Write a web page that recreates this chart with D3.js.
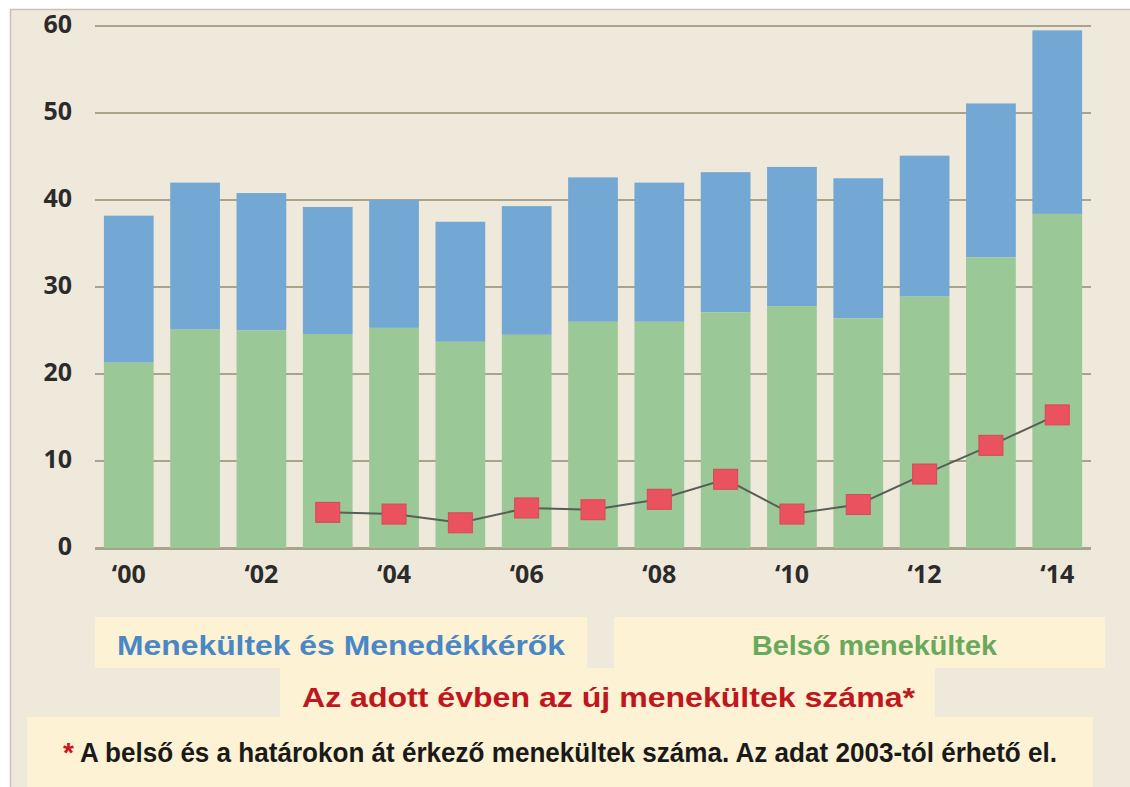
<!DOCTYPE html>
<html>
<head>
<meta charset="utf-8">
<script src="https://cdn.jsdelivr.net/npm/d3@7"></script>
<style>
  body { margin: 0; background: #fff; }
  svg { display: block; }
</style>
</head>
<body>
<div id="chart"></div>
<script>
// data (millions)
const years   = d3.range(2000, 2015);
const refugees = [38.2, 42.0, 40.8, 39.2, 40.0, 37.5, 39.3, 42.6, 42.0, 43.2, 43.8, 42.5, 45.1, 51.1, 59.5]; // totals
const internal = [21.3, 25.1, 25.0, 24.6, 25.3, 23.7, 24.5, 26.0, 26.0, 27.1, 27.8, 26.4, 28.9, 33.4, 38.4];
const newYears = d3.range(2003, 2015);
const newRef   = [4.1, 3.9, 2.9, 4.6, 4.4, 5.6, 7.9, 3.9, 5.0, 8.5, 11.8, 15.3];
const yTicks   = [0, 10, 20, 30, 40, 50, 60];
const xLabels  = [2000, 2002, 2004, 2006, 2008, 2010, 2012, 2014];

const width = 1130, height = 787;
const svg = d3.select("#chart").append("svg")
  .attr("width", width).attr("height", height);

// page background with border
svg.append("rect").attr("x", 10.5).attr("y", 9.5)
   .attr("width", width).attr("height", height)
   .attr("fill", "#efe9db").attr("stroke", "#c9c2b3").attr("stroke-width", 1.5);

const x = d3.scaleBand().domain(years).range([95.6, 1090.4])
  .paddingInner(0.25).paddingOuter(0.125);
const y = d3.scaleLinear().domain([0, 60]).range([548, 26]);

// grid
svg.append("g").selectAll("line").data(yTicks).join("line")
  .attr("x1", 95).attr("x2", 1091)
  .attr("y1", d => y(d)).attr("y2", d => y(d))
  .attr("stroke", "#a8a48b").attr("stroke-width", 2);

// y labels
svg.append("g").selectAll("text").data(yTicks).join("text")
  .attr("x", 72).attr("y", d => y(d) - 2)
  .attr("dy", "0.35em").attr("text-anchor", "end")
  .attr("font-family", "Open Sans, sans-serif").attr("font-weight", 700)
  .attr("font-size", 25).attr("fill", "#2b2b2b")
  .text(d => d);

// stacked bars
const bars = svg.append("g");
bars.selectAll("rect.tot").data(years).join("rect")
  .attr("class", "tot")
  .attr("x", d => x(d)).attr("width", x.bandwidth())
  .attr("y", (d, i) => y(refugees[i]))
  .attr("height", (d, i) => y(internal[i]) - y(refugees[i]))
  .attr("fill", "#74a8d4");
bars.selectAll("rect.int").data(years).join("rect")
  .attr("class", "int")
  .attr("x", d => x(d)).attr("width", x.bandwidth())
  .attr("y", (d, i) => y(internal[i]))
  .attr("height", (d, i) => y(0) - y(internal[i]))
  .attr("fill", "#9ac897");

// baseline over bars
svg.append("line").attr("x1", 95).attr("x2", 1091)
  .attr("y1", y(0) + 1).attr("y2", y(0) + 1)
  .attr("stroke", "#a8a48b").attr("stroke-width", 2);

// x labels
svg.append("g").selectAll("text").data(xLabels).join("text")
  .attr("x", d => x(d) + x.bandwidth() / 2).attr("y", 574)
  .attr("dy", "0.35em").attr("text-anchor", "middle")
  .attr("font-family", "Open Sans, sans-serif").attr("font-weight", 700)
  .attr("font-size", 25).attr("fill", "#2b2b2b")
  .text(d => "\u2018" + String(d).slice(2));

// new refugees line
const line = d3.line()
  .x((d, i) => x(newYears[i]) + x.bandwidth() / 2)
  .y(d => y(d));
svg.append("path").datum(newRef)
  .attr("d", line).attr("fill", "none")
  .attr("stroke", "#575f55").attr("stroke-width", 2);
svg.append("g").selectAll("rect").data(newRef).join("rect")
  .attr("x", (d, i) => x(newYears[i]) + x.bandwidth() / 2 - 12)
  .attr("y", d => y(d) - 10)
  .attr("width", 24).attr("height", 20)
  .attr("fill", "#e9525e").attr("stroke", "#d94855").attr("stroke-width", 1);

// legend boxes
const boxes = [
  {x: 95, y: 617, w: 492, h: 51},
  {x: 614, y: 617, w: 491, h: 51},
  {x: 280, y: 668, w: 655, h: 49},
  {x: 27, y: 717, w: 1066, h: 70}
];
svg.append("g").selectAll("rect").data(boxes).join("rect")
  .attr("x", d => d.x).attr("y", d => d.y)
  .attr("width", d => d.w).attr("height", d => d.h)
  .attr("fill", "#fdf2d4");

const font = "Liberation Sans Narrow, Liberation Sans, Arial, sans-serif";
svg.append("text").attr("x", 117).attr("y", 655)
  .attr("font-family", "Liberation Sans, Arial, sans-serif").attr("font-weight", 700).attr("font-size", 28)
  .attr("fill", "#4a87c6").attr("textLength", 448).attr("lengthAdjust", "spacingAndGlyphs")
  .text("Menekültek és Menedékkérők");
svg.append("text").attr("x", 752).attr("y", 655)
  .attr("font-family", "Liberation Sans, Arial, sans-serif").attr("font-weight", 700).attr("font-size", 28)
  .attr("fill", "#69a95c").attr("textLength", 245).attr("lengthAdjust", "spacingAndGlyphs")
  .text("Belső menekültek");
svg.append("text").attr("x", 302).attr("y", 707)
  .attr("font-family", font).attr("font-weight", 700).attr("font-size", 28)
  .attr("fill", "#c0161d").attr("textLength", 613).attr("lengthAdjust", "spacingAndGlyphs")
  .text("Az adott évben az új menekültek száma*");

// footnote: red asterisk + text
svg.append("text").attr("x", 63).attr("y", 762)
  .attr("font-family", font).attr("font-weight", 700).attr("font-size", 28)
  .attr("fill", "#d0141c").text("*");
svg.append("text").attr("x", 80).attr("y", 762)
  .attr("font-family", font).attr("font-weight", 700).attr("font-size", 28)
  .attr("fill", "#1a1a1a").attr("textLength", 977).attr("lengthAdjust", "spacingAndGlyphs")
  .text("A belső és a határokon át érkező menekültek száma. Az adat 2003-tól érhető el.");
</script>
</body>
</html>
